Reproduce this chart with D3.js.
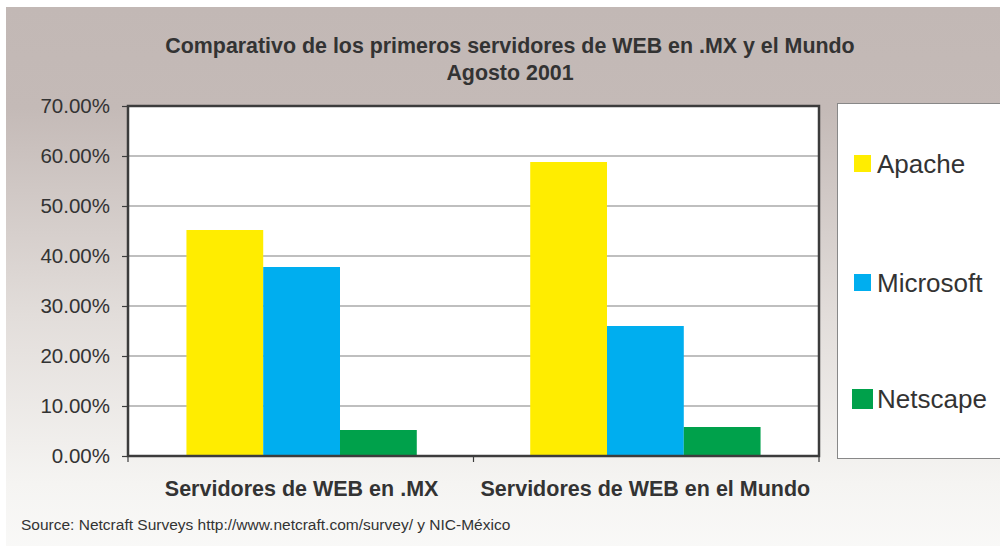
<!DOCTYPE html>
<html><head><meta charset="utf-8">
<script src="https://cdn.jsdelivr.net/npm/d3@7"></script>
<style>body{margin:0;background:#fff}svg{display:block}text{font-family:"Liberation Sans",Arial,sans-serif;fill:#333}</style>
</head><body><svg id="c" width="1000" height="546"></svg>
<script>
const categories = ["Servidores de WEB en .MX", "Servidores de WEB en el Mundo"];
const seriesNames = ["Apache", "Microsoft", "Netscape"];
const apache = [45.2, 58.8];
const microsoft = [37.8, 26.0];
const netscape = [5.2, 5.8];
const yTicks = [0, 10, 20, 30, 40, 50, 60, 70];
const titleLines = ["Comparativo de los primeros servidores de WEB en .MX y el Mundo", "Agosto 2001"];
const sourceText = "Source: Netcraft Surveys http://www.netcraft.com/survey/ y NIC-México";

const colors = ["#FFED00", "#00AEEF", "#00A14B"];
const values = [apache, microsoft, netscape];

const svg = d3.select("#c");
const defs = svg.append("defs");
const g = defs.append("linearGradient").attr("id","bg").attr("x1",0).attr("y1",0).attr("x2",0).attr("y2",1);
g.append("stop").attr("offset","0%").attr("stop-color","#c2b8b5");
g.append("stop").attr("offset","18%").attr("stop-color","#c4bab7");
g.append("stop").attr("offset","55%").attr("stop-color","#e2ddda");
g.append("stop").attr("offset","85%").attr("stop-color","#f5f4f2");
g.append("stop").attr("offset","100%").attr("stop-color","#fafaf9");
svg.append("rect").attr("x",6).attr("y",7).attr("width",1000).attr("height",560).attr("fill","url(#bg)");

const L = 128, R = 819, T = 106, B = 456;
const x0 = d3.scaleBand().domain(categories).range([L, R]).paddingInner(0.33).paddingOuter(0.17);
const x1 = d3.scaleBand().domain(seriesNames).range([0, x0.bandwidth()]);
const y = d3.scaleLinear().domain([0, 70]).range([B, T]);

svg.append("rect").attr("x",L).attr("y",T).attr("width",R-L).attr("height",B-T).attr("fill","#fff");

// gridlines
svg.append("g").selectAll("line").data(yTicks.filter(d=>d>0&&d<70)).join("line")
  .attr("x1",L).attr("x2",R).attr("y1",d=>y(d)).attr("y2",d=>y(d))
  .attr("stroke","#808080").attr("stroke-width",1.2);

// bars
const data = [];
categories.forEach((c,i)=>seriesNames.forEach((s,j)=>data.push({c,s,v:values[j][i],col:colors[j]})));
svg.append("g").selectAll("rect").data(data).join("rect")
  .attr("x",d=>x0(d.c)+x1(d.s)).attr("width",x1.bandwidth())
  .attr("y",d=>y(d.v)).attr("height",d=>B-y(d.v)).attr("fill",d=>d.col);

// plot border
svg.append("rect").attr("x",L).attr("y",T).attr("width",R-L).attr("height",B-T)
  .attr("fill","none").attr("stroke","#3c3c3c").attr("stroke-width",2.5);

// y axis
const yAxis = d3.axisLeft(y).tickValues(yTicks).tickFormat(d=>d.toFixed(2)+"%").tickSize(6).tickPadding(12);
const ya = svg.append("g").attr("transform",`translate(${L},0)`).call(yAxis);
ya.select(".domain").remove();
ya.selectAll("line").attr("stroke","#3c3c3c").attr("stroke-width",1.2);
ya.selectAll("text").attr("font-size",20.5).attr("fill","#333").attr("font-family","Liberation Sans, Arial, sans-serif");

// category ticks
const bounds = [L, (L+R)/2, R];
svg.append("g").selectAll("line").data(bounds).join("line")
  .attr("x1",d=>d).attr("x2",d=>d).attr("y1",B).attr("y2",B+6).attr("stroke","#3c3c3c").attr("stroke-width",1.2);

// category labels
svg.append("g").selectAll("text").data(categories).join("text")
  .attr("x",d=>x0(d)+x0.bandwidth()/2).attr("y",496).attr("text-anchor","middle")
  .attr("font-size",21.5).attr("font-weight","bold").text(d=>d);

// title
svg.append("g").selectAll("text").data(titleLines).join("text")
  .attr("x",510).attr("y",(d,i)=>53+i*27).attr("text-anchor","middle")
  .attr("font-size",21.4).attr("font-weight","bold").text(d=>d);

// legend
svg.append("rect").attr("x",837.5).attr("y",103.5).attr("width",200).attr("height",355)
  .attr("fill","#fff").attr("stroke","#888").attr("stroke-width",1);
const legY = [163.5, 282.5, 399];
const lg = svg.append("g").selectAll("g").data(seriesNames).join("g")
  .attr("transform",(d,i)=>`translate(0,${legY[i]})`);
lg.append("rect").attr("x",(d,i)=>i===2?852:854).attr("y",(d,i)=>i===2?-10:-8.5)
  .attr("width",(d,i)=>i===2?21:17).attr("height",(d,i)=>i===2?20:17)
  .attr("fill",(d,i)=>colors[i]);
lg.append("text").attr("x",877).attr("y",9).attr("font-size",26).text(d=>d);

// source
svg.append("text").attr("x",21).attr("y",530).attr("font-size",15.5).text(sourceText);
</script></body></html>
